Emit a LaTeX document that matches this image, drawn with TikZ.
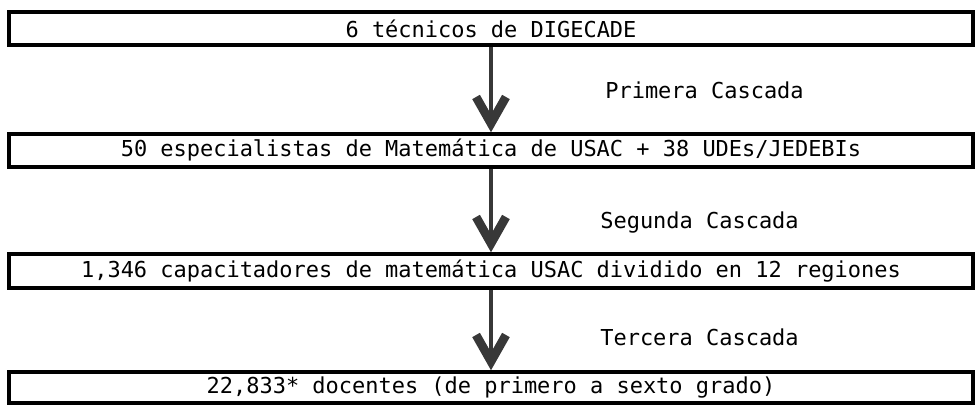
\documentclass[tikz,border=0pt]{standalone}
\usepackage{fontspec}
\setmonofont{DejaVu Sans Mono}
\usetikzlibrary{arrows.meta}
\definecolor{ink}{rgb}{0.22,0.22,0.22}

\begin{document}
\begin{tikzpicture}[x=0.02cm,y=-0.02cm,
  level/.style={draw, line width=2pt, minimum width=19.28cm, inner sep=0pt,
    font=\ttfamily\fontsize{12.5}{14}\selectfont},
  cascade/.style={anchor=west, inner sep=0pt, font=\ttfamily\fontsize{12.5}{14}\selectfont},
  flow/.style={draw=ink, line width=2.6pt,
    -{Straight Barb[length=15pt,width=17pt,line width=5pt]}}]
  \useasboundingbox (0,0) rectangle (978,405);
  % the four levels
  \node[level, minimum height=0.66cm] (b1) at (491,28.5) {6 técnicos de DIGECADE};
  \node[level, minimum height=0.66cm] (b2) at (491,150.5) {50 especialistas de Matemática de USAC + 38 UDEs/JEDEBIs};
  \node[level, minimum height=0.68cm] (b3) at (491,271) {1,346 capacitadores de matemática USAC dividido en 12 regiones};
  \node[level, minimum height=0.62cm] (b4) at (491,387.5) {22,833* docentes (de primero a sexto grado)};
  % the cascades
  \foreach \a/\b in {b1/b2,b2/b3,b3/b4}
  \draw[flow] (\a.south) -- (\b.north);
  \node[cascade] (c1) at (605,90) {Primera Cascada};
  \node[cascade] (c2) at (600,223) {Segunda Cascada};
  \node[cascade] (c3) at (600,337) {Tercera Cascada};
\end{tikzpicture}
\end{document}
